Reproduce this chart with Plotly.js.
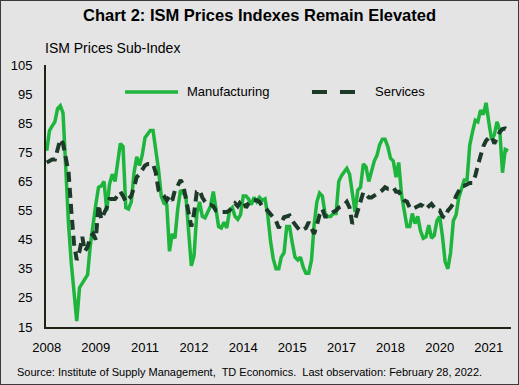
<!DOCTYPE html>
<html>
<head>
<meta charset="utf-8">
<script src="https://cdn.plot.ly/plotly-3.0.1.min.js"></script>
<style>
  html, body { margin: 0; padding: 0; background: #e4e4e4; }
  #wrap { position: relative; width: 519px; height: 385px; }
  #frame { position: absolute; left: 0; top: 0; width: 519px; height: 385px; box-sizing: border-box; border: 1px solid #3a3a3a; pointer-events: none; }
</style>
</head>
<body>
<div id="wrap"><div id="chart"></div><div id="frame"></div></div>
<script>
// Monthly data, Jan 2008 - Feb 2022
var startYear = 2008;
var manufacturing = [
  75.5, 82.5, 84, 85.5, 90, 91, 88.5, 68, 50, 37, 26, 17,
  28.5, 30, 31.5, 33, 43, 51, 57, 63, 63.5, 65, 55, 64,
  67.5, 65, 72, 78, 77, 56, 55.5, 58, 68, 73.5, 70.5, 74,
  80, 81.5, 82.5, 82.5, 76, 69, 60, 57.5, 57, 41, 47, 45.5,
  55.5, 62, 61, 60, 48, 36, 39.5, 54, 58, 53, 52.5, 54.5,
  56.5, 61.5, 55, 49.5, 49, 51, 49, 55, 56, 53, 52, 53.5,
  60, 60, 59, 57, 59.5, 58, 59.5, 58.5, 59, 53.5, 44.5, 38.5,
  35, 35, 39, 40.5, 49.5, 49.5, 44, 39, 38, 39, 35.5, 33.5,
  33.5, 38, 50, 58, 61, 60, 54, 53, 53, 54, 54, 65,
  67, 68.5, 69.5, 67.5, 60.5, 54.5, 62, 63, 71, 70, 65, 69,
  72, 74, 77.5, 79.5, 79.5, 77, 73, 72, 66.5, 71.5, 60.5, 55,
  49.5, 49.5, 54, 50.5, 53, 48, 45.5, 46, 50, 45.5, 46.5, 51.5,
  53, 46, 37.5, 35, 40.5, 51.5, 53.5, 59.5, 63, 65.5, 65.5, 77.5,
  82, 86, 85.5, 89.5, 88, 92, 85.5, 79.5, 81, 85.5, 82.5, 68,
  76, 75.5
];
var services = [
  71.5, 72, 72.5, 72.5, 76, 79.5, 78, 72.5, 68, 55, 43.5, 38,
  41, 46, 41, 42.5, 46, 47, 45, 57, 52, 54, 56, 59,
  59, 59, 60, 61.5, 60, 58, 59, 60, 63, 66.5, 67.5, 69,
  70.5, 71, 71, 71, 68, 62, 61, 60, 58.5, 60, 58.5, 62,
  63.5, 65.5, 64, 59, 54, 49.5, 54, 61.5, 62, 59.5, 58, 57,
  57, 56.5, 55, 55, 54.5, 54.5, 54.5, 55, 56.5, 57.5, 56.5, 58,
  58.5, 56, 57.5, 58.5, 58.5, 58.5, 58, 56.5, 56, 55, 54, 52.5,
  51.5, 49, 51, 52.7, 53, 53.3, 51.5, 50, 49, 48, 48.5, 49,
  51, 48.5, 47, 50, 53.5, 55.5, 53, 53, 54, 54.5, 55, 56,
  56.5, 57, 58, 56, 50.5, 52, 55, 58, 61.3, 60.5, 59.5, 59.5,
  60, 60.5, 61.3, 62, 63, 62.5, 62.5, 63, 61.5, 61.5, 60, 58.5,
  58, 56, 55.5, 56, 56.5, 57, 56.5, 55.5, 56.5, 57.3, 56, 55,
  55, 53, 52.5, 55, 56, 57.5, 60, 62, 63.5, 63.5, 64, 64.5,
  64.5, 67, 70.5, 74, 77, 79, 80, 80.5, 78, 80, 82, 83,
  83.2, 82.6
];
var tickDates = ['2008-01-01','2009-07-01','2011-01-01','2012-07-01','2014-01-01',
                 '2015-07-01','2017-01-01','2018-07-01','2020-01-01','2021-07-01'];
var tickYears = ['2008','2009','2011','2012','2014','2015','2017','2018','2020','2021'];
var seriesNames = ['Manufacturing', 'Services'];

var dates = [];
for (var i = 0; i < manufacturing.length; i++) {
  var y = startYear + Math.floor(i / 12);
  var m = (i % 12) + 1;
  dates.push(y + '-' + (m < 10 ? '0' + m : m) + '-01');
}

var green = '#1db53c';
var dark = '#1c3a28';

var traces = [
  { x: dates, y: manufacturing, type: 'scatter', mode: 'lines', name: seriesNames[0],
    line: { color: green, width: 3.5 }, showlegend: false },
  { x: dates, y: services, type: 'scatter', mode: 'lines', name: seriesNames[1],
    line: { color: dark, width: 4, dash: '10px,6px' }, showlegend: false }
];

var font = 'Arial, "Liberation Sans", sans-serif';
var layout = {
  width: 519, height: 385,
  paper_bgcolor: '#e4e4e4', plot_bgcolor: '#e4e4e4',
  margin: { l: 46, r: 8, t: 65, b: 58 },
  font: { family: font, color: '#000', size: 13 },
  title: { text: '<b>Chart 2: ISM Prices Indexes Remain Elevated</b>', x: 0.5, xanchor: 'center',
           y: 1 - 15/385, yanchor: 'middle', font: { family: font, size: 16.5, color: '#000' } },
  xaxis: {
    type: 'date', range: ['2007-12-24', '2022-03-06'],
    tickmode: 'array', tickvals: tickDates, ticktext: tickYears,
    showgrid: false, zeroline: false, showline: true, linecolor: '#1f2318', linewidth: 2,
    ticks: 'outside', ticklen: 7, tickcolor: 'rgba(0,0,0,0)',
    tickfont: { family: font, size: 13, color: '#000' }
  },
  yaxis: {
    range: [15, 105], tickmode: 'array', tickvals: [15,25,35,45,55,65,75,85,95,105],
    showgrid: false, zeroline: false, showline: true, linecolor: '#1f2318', linewidth: 2,
    ticks: 'outside', ticklen: 9, tickcolor: 'rgba(0,0,0,0)',
    tickfont: { family: font, size: 13, color: '#000' }
  },
  shapes: [
    { type: 'line', xref: 'paper', yref: 'paper', x0: 0.170, x1: 0.284, y0: 0.897, y1: 0.897,
      line: { color: green, width: 3.5 } },
    { type: 'line', xref: 'paper', yref: 'paper', x0: 0.572, x1: 0.665, y0: 0.897, y1: 0.897,
      line: { color: dark, width: 4, dash: '15px,13px' } }
  ],
  annotations: [
    { text: 'ISM Prices Sub-Index', xref: 'paper', yref: 'paper', x: -3/465, y: 1 + 17/262,
      xanchor: 'left', yanchor: 'middle', showarrow: false, font: { family: font, size: 14, color: '#000' } },
    { text: seriesNames[0], xref: 'paper', yref: 'paper', x: 0.299, y: 0.897,
      xanchor: 'left', yanchor: 'middle', showarrow: false, font: { family: font, size: 13, color: '#000' } },
    { text: seriesNames[1], xref: 'paper', yref: 'paper', x: 0.703, y: 0.897,
      xanchor: 'left', yanchor: 'middle', showarrow: false, font: { family: font, size: 13, color: '#000' } },
    { text: 'Source: Institute of Supply Management,  TD Economics.  Last observation: February 28, 2022.',
      xref: 'paper', yref: 'paper', x: -31/465, y: -45/262, xanchor: 'left', yanchor: 'middle',
      showarrow: false, font: { family: font, size: 11, color: '#000' } }
  ]
};

Plotly.newPlot('chart', traces, layout, { displayModeBar: false, staticPlot: true });
</script>
</body>
</html>
